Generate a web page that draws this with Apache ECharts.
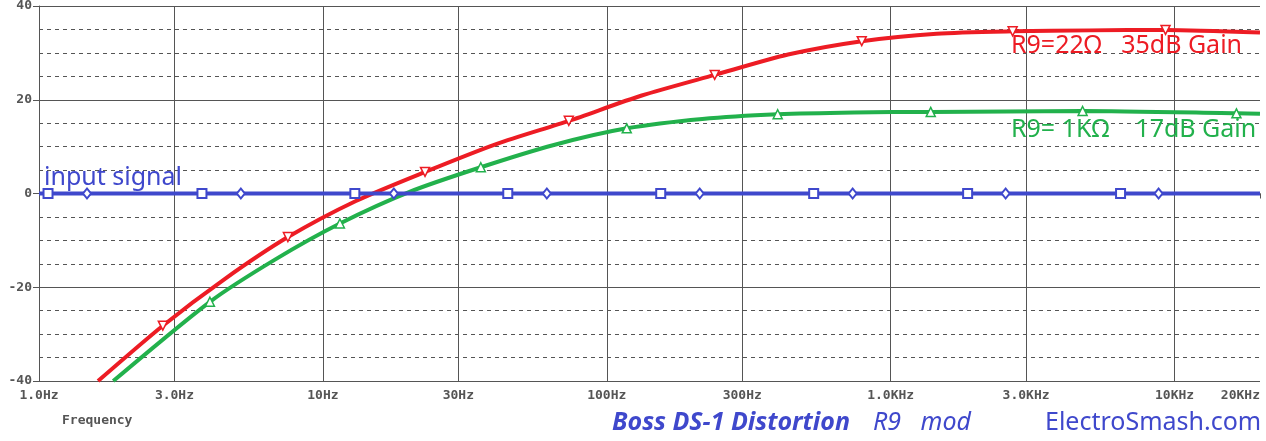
<!DOCTYPE html>
<html>
<head>
<meta charset="utf-8">
<script src="https://cdn.jsdelivr.net/npm/echarts@6/dist/echarts.min.js"></script>
<style>
html,body{margin:0;padding:0;background:#fff;}
#chart{width:1266px;height:441px;}
</style>
</head>
<body>
<div id="chart"></div>
<script>
// ---- data ----
const freqTicks = [1, 3, 10, 30, 100, 300, 1000, 3000, 10000, 20000];
const freqTickLabels = ['1.0Hz', '3.0Hz', '10Hz', '30Hz', '100Hz', '300Hz', '1.0KHz', '3.0KHz', '10KHz', '20KHz'];
const dbTicks = [-40, -20, 0, 20, 40];

// R9 = 22 ohm (red) gain curve [Hz, dB]
const redCurve = [[1.614,-40],[2.73,-28.2],[4.52,-18.2],[7.53,-9.3],[13.07,-1.6],[22.9,4.6],[41.0,10.6],[73.5,15.5],[132.8,20.9],[240,25.3],[435,29.65],[791,32.5],[1452,34.1],[2690,34.6],[5020,34.8],[9296,34.9],[20000,34.35]];
const redMarkers = [[2.73,-28.2],[7.53,-9.3],[22.9,4.6],[73.5,15.5],[240,25.3],[791,32.5],[2690,34.6],[9296,34.9]];

// R9 = 1K ohm (green) gain curve [Hz, dB]
const greenCurve = [[1.826,-40],[4.0,-23.1],[6.78,-14.1],[11.48,-6.4],[20.3,0.4],[36.0,5.6],[65.1,10.35],[117.6,13.9],[217,15.9],[400,16.9],[743,17.3],[1384,17.4],[4744,17.6],[16520,17.1],[20000,17.0]];
const greenMarkers = [[4.0,-23.1],[11.48,-6.4],[36.0,5.6],[117.6,13.9],[400,16.9],[1384,17.4],[4744,17.6],[16520,17.1]];

// input signal (blue) [Hz, dB]
const inputCurve = [[1,0],[20000,0]];
const inputSquares = [[1.076,0],[3.75,0],[12.96,0],[44.8,0],[154.9,0],[535.6,0],[1867,0],[6454,0]];
const inputDiamonds = [[1.476,0],[5.14,0],[17.78,0],[61.5,0],[212.5,0],[734.7,0],[2541,0],[8785,0]];

// ---- styles ----
const RED = '#ED1C24', GREEN = '#22B14C', BLUE = '#3F48CC', GRID = '#555555';
const monoFont = { fontFamily: 'DejaVu Sans Mono', fontWeight: 'bold', fontSize: 13, color: GRID };

const chart = echarts.init(document.getElementById('chart'), null, { renderer: 'canvas' });

const splitColors = freqTicks.map((t, i) => i === freqTicks.length - 1 ? 'rgba(0,0,0,0)' : GRID);

const option = {
  animation: false,
  backgroundColor: '#fff',
  grid: { left: 39, right: 6, top: 6, bottom: 60, containLabel: false, outerBoundsMode: 'none' },
  xAxis: {
    type: 'log', logBase: 10, min: 1, max: 20000,
    axisLine: { show: true, lineStyle: { color: GRID, width: 1 } },
    axisTick: { show: true, length: 5, lineStyle: { color: GRID }, customValues: freqTicks },
    minorTick: { show: false },
    axisLabel: Object.assign({
      margin: 8, customValues: freqTicks, alignMaxLabel: 'right', hideOverlap: false,
      formatter: function (v) {
        const i = freqTicks.findIndex(t => Math.abs(t - v) / t < 1e-4);
        return i >= 0 ? freqTickLabels[i] : '';
      }
    }, monoFont),
    splitLine: { show: true, lineStyle: { color: splitColors, width: 1, type: 'solid' } }
  },
  yAxis: [
    {
      type: 'value', min: -40, max: 40, interval: 20, position: 'left',
      axisLine: { show: true, lineStyle: { color: GRID, width: 1 } },
      axisTick: { show: true, length: 6, lineStyle: { color: GRID } },
      axisLabel: Object.assign({ margin: 7, formatter: function (v) { return dbTicks.indexOf(v) >= 0 ? String(v) : ''; } }, monoFont),
      splitLine: { show: true, lineStyle: { color: GRID, width: 1, type: 'solid' } }
    },
    {
      type: 'value', min: -40, max: 40, interval: 5, position: 'left',
      axisLine: { show: false }, axisTick: { show: false }, axisLabel: { show: false },
      splitLine: { show: true, lineStyle: { color: GRID, width: 1, type: [4, 4] } }
    }
  ],
  series: [
    { name: 'R9=22', type: 'line', data: redCurve, showSymbol: false, smooth: 0.25, z: 3,
      lineStyle: { color: RED, width: 4 }, itemStyle: { color: RED } },
    { name: 'R9=1K', type: 'line', data: greenCurve, showSymbol: false, smooth: 0.25, z: 3,
      lineStyle: { color: GREEN, width: 4 }, itemStyle: { color: GREEN } },
    { name: 'input', type: 'line', data: inputCurve, showSymbol: false, z: 4,
      lineStyle: { color: BLUE, width: 4 }, itemStyle: { color: BLUE } },
    { type: 'scatter', data: redMarkers, symbol: 'triangle', symbolRotate: 180, symbolSize: [9, 9], z: 6,
      itemStyle: { color: '#fff', borderColor: RED, borderWidth: 1.5, opacity: 1 } },
    { type: 'scatter', data: greenMarkers, symbol: 'triangle', symbolSize: [9, 9], z: 6,
      itemStyle: { color: '#fff', borderColor: GREEN, borderWidth: 1.5, opacity: 1 } },
    { type: 'scatter', data: inputSquares, symbol: 'rect', symbolSize: [9, 9], z: 6,
      itemStyle: { color: '#fff', borderColor: BLUE, borderWidth: 2, opacity: 1 } },
    { type: 'scatter', data: inputDiamonds, symbol: 'diamond', symbolSize: [8, 10], z: 6,
      itemStyle: { color: '#fff', borderColor: BLUE, borderWidth: 2, opacity: 1 } }
  ],
  graphic: [
    { type: 'text', x: 44, y: 178, z: 10, style: { text: 'input signal', fill: BLUE, font: '25px "Noto Sans"', verticalAlign: 'middle' } },
    { type: 'text', x: 1011, y: 46, z: 10, style: { text: 'R9=22Ω   35dB Gain', fill: RED, font: '25px "Noto Sans"', verticalAlign: 'middle' } },
    { type: 'text', x: 1011, y: 130, z: 10, style: { text: 'R9= 1KΩ    17dB Gain', fill: GREEN, font: '25px "Noto Sans"', verticalAlign: 'middle' } },
    { type: 'text', x: 62, y: 421, z: 10, style: { text: 'Frequency', fill: GRID, font: 'bold 13px "DejaVu Sans Mono"', verticalAlign: 'middle' } },
    { type: 'text', x: 612, y: 423, z: 10, style: { text: 'Boss DS-1 Distortion', fill: BLUE, font: 'italic bold 25px "Noto Sans"', verticalAlign: 'middle' } },
    { type: 'text', x: 873, y: 423, z: 10, style: { text: 'R9   mod', fill: BLUE, font: 'italic 25px "Noto Sans"', verticalAlign: 'middle' } },
    { type: 'text', x: 1045, y: 423, z: 10, style: { text: 'ElectroSmash.com', fill: BLUE, font: '25px "Noto Sans"', verticalAlign: 'middle' } }
  ]
};
chart.setOption(option);
</script>
</body>
</html>
